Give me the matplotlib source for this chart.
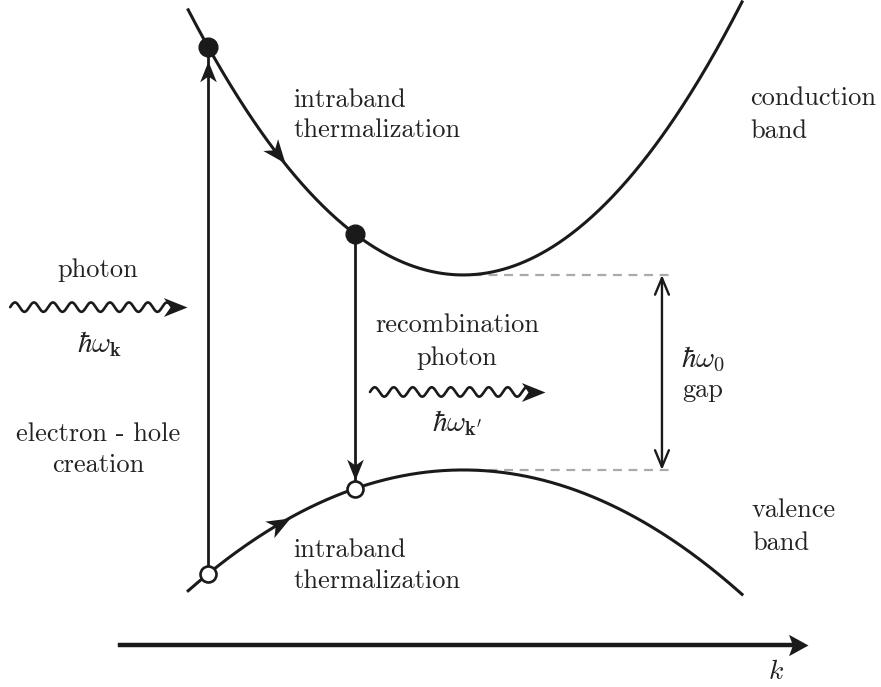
import numpy as np
import matplotlib
matplotlib.use("Agg")
import matplotlib.pyplot as plt
from matplotlib.path import Path
from matplotlib.markers import MarkerStyle
from matplotlib.transforms import Affine2D
from matplotlib.patches import FancyArrowPatch, ArrowStyle

plt.rcParams['font.family'] = 'cmr10'
plt.rcParams['mathtext.fontset'] = 'cm'
plt.rcParams['axes.unicode_minus'] = False

# band model (k in arbitrary units, energy in units of the gap)
gap = 1.0
m_cond = 1.17          # curvature of conduction band
m_val = 0.533          # curvature of valence band
k_range = (-1.078, 1.094)
k_pump = -1.0          # photon absorption (electron-hole creation)
k_recomb = -0.4235     # radiative recombination
k_arrow_cond = -0.70   # arrow along conduction band
k_arrow_val = -0.68    # arrow along valence band
k_gap = 0.78           # position of the gap marker
k_dash_end = 0.83

# photons: (k start, k tip, energy)
photon_in = (-1.776, -1.082, 0.835)
photon_out = (-0.365, 0.322, 0.40)
wave_period = 0.0745
wave_amp = 0.024

# k axis
k_axis = (-1.345, 1.353, -0.897)


def e_cond(k):
    return gap + m_cond * np.asarray(k) ** 2


def e_val(k):
    return -m_val * np.asarray(k) ** 2


stealth = Path([(0, 0), (-1, 0.40), (-0.72, 0), (-1, -0.40), (0, 0)],
               [Path.MOVETO, Path.LINETO, Path.LINETO, Path.LINETO, Path.CLOSEPOLY])


def head(ax, x, y, dx, dy, ms=34, path=stealth):
    p0 = ax.transData.transform((x, y))
    p1 = ax.transData.transform((x + dx, y + dy))
    ang = np.degrees(np.arctan2(p1[1] - p0[1], p1[0] - p0[0]))
    m = MarkerStyle(path, transform=Affine2D().rotate_deg(ang))
    ax.plot([x], [y], marker=m, ms=ms, color='#1a1a1a', mew=0, zorder=6)


def photon(ax, k0, k1, e):
    straight = 0.075
    kk = np.linspace(k0, k1 - straight, 400)
    yy = e + wave_amp * np.sin(2 * np.pi * (kk - k0) / wave_period)
    kk = np.append(kk, k1 - 0.03)
    yy = np.append(yy, e)
    ax.plot(kk, yy, color='#1a1a1a', lw=1.9, solid_capstyle='round')
    head(ax, k1, e, 1, 0, ms=34)


fig = plt.figure(figsize=(8.81, 6.87), dpi=100)
ax = fig.add_axes([0, 0, 1, 1])
ax.set_xlim(-1.816, 1.639)
ax.set_ylim(-1.113, 2.41)
ax.axis('off')

col = '#1a1a1a'
k = np.linspace(*k_range, 400)
ax.plot(k, e_cond(k), color=col, lw=2.2, zorder=3)
ax.plot(k, e_val(k), color=col, lw=2.2, zorder=3)

# gap marker
ax.plot([0.04, k_dash_end], [gap, gap], color='#aaaaaa', lw=1.6, dashes=(4, 3), zorder=1)
ax.plot([0.04, k_dash_end], [0, 0], color='#aaaaaa', lw=1.6, dashes=(4, 3), zorder=1)
ax.add_patch(FancyArrowPatch((k_gap, 0), (k_gap, gap),
                             arrowstyle=ArrowStyle('<->', head_length=0.6, head_width=0.25),
                             mutation_scale=20, color=col, lw=1.7, shrinkA=0, shrinkB=0))

# vertical transitions
ax.plot([k_pump, k_pump], [e_val(k_pump), e_cond(k_pump)], color=col, lw=2.0, zorder=3)
head(ax, k_pump, e_cond(k_pump) - 0.075, 0, 1, ms=30)
ax.plot([k_recomb, k_recomb], [e_cond(k_recomb), e_val(k_recomb)], color=col, lw=2.0, zorder=3)
head(ax, k_recomb, e_val(k_recomb) + 0.045, 0, -1, ms=30)

# thermalization arrows along bands
d = 0.01
head(ax, k_arrow_cond, e_cond(k_arrow_cond), d, e_cond(k_arrow_cond + d) - e_cond(k_arrow_cond))
head(ax, k_arrow_val, e_val(k_arrow_val), d, e_val(k_arrow_val + d) - e_val(k_arrow_val))

# carriers
ax.plot([k_pump, k_recomb], [e_cond(k_pump), e_cond(k_recomb)], 'o', ms=13.5, color=col, zorder=7)
ax.plot([k_pump, k_recomb], [e_val(k_pump), e_val(k_recomb)], 'o', ms=11.5, mfc='white',
        mec=col, mew=1.9, zorder=7)

# photons
photon(ax, *photon_in)
photon(ax, *photon_out)

# k axis
ax.plot([k_axis[0], k_axis[1] - 0.03], [k_axis[2], k_axis[2]], color=col, lw=3.2)
head(ax, k_axis[1], k_axis[2], 1, 0, ms=28,
     path=Path([(0, 0), (-1, 0.55), (-0.8, 0), (-1, -0.55), (0, 0)],
               [Path.MOVETO, Path.LINETO, Path.LINETO, Path.LINETO, Path.CLOSEPOLY]))

fs = 19
tc = '#222222'


def label(x, y, s, ha='left', size=fs):
    ax.text(x, y, s, ha=ha, va='baseline', fontsize=size, color=tc)


label(-0.667, 1.862, 'intraband')
label(-0.667, 1.708, 'thermalization')
label(1.125, 1.872, 'conduction')
label(1.125, 1.703, 'band')
label(-1.431, 0.990, 'photon', 'center')
label(-1.427, 0.605, r'$\hbar\omega_{\mathbf{k}}$', 'center', 21)
label(-1.431, 0.149, 'electron - hole', 'center')
label(-1.431, -0.010, 'creation', 'center')
label(-0.024, 0.708, 'recombination', 'center')
label(-0.024, 0.538, 'photon', 'center')
label(-0.024, 0.200, r'$\hbar\omega_{\mathbf{k}^{\prime}}$', 'center', 21)
label(0.941, 0.528, r'$\hbar\omega_0$', 'center', 21)
label(0.941, 0.374, 'gap', 'center')
label(1.133, -0.241, 'valence')
label(1.133, -0.410, 'band')
label(-0.667, -0.446, 'intraband')
label(-0.667, -0.605, 'thermalization')
label(1.227, -1.072, r'$k$', 'center', 20)

fig.savefig('out.png', dpi=100)
